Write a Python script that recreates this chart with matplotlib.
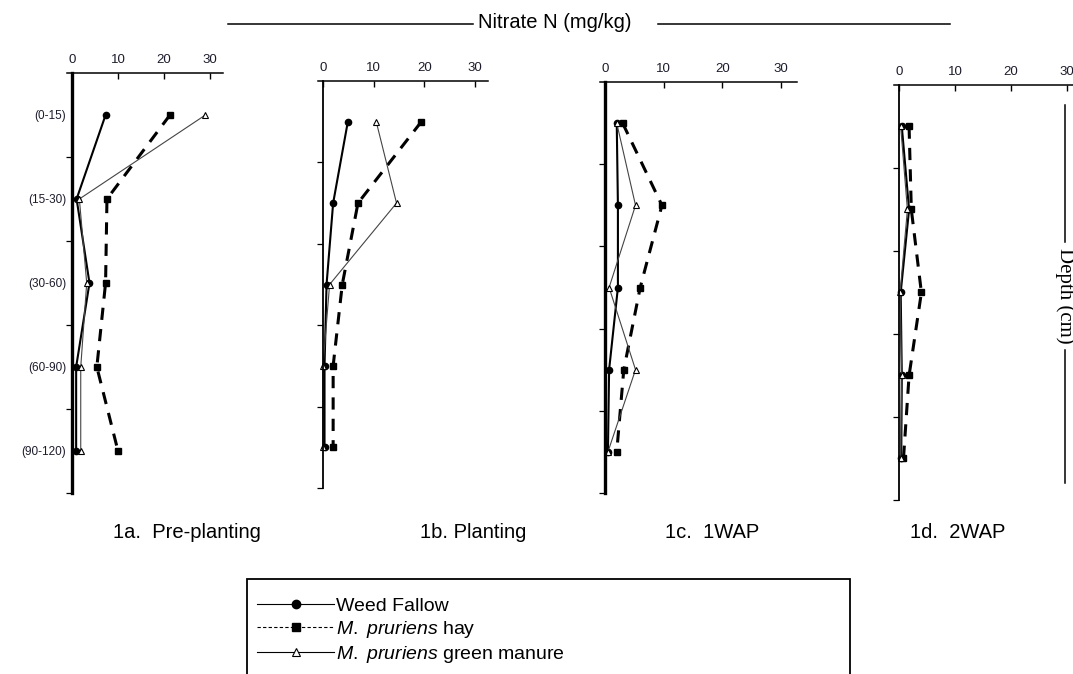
import matplotlib
matplotlib.use("Agg")
import matplotlib.pyplot as plt
from matplotlib.lines import Line2D
from matplotlib.patches import Rectangle

# ---------- DATA ----------
depth_labels = ["(0-15)", "(15-30)", "(30-60)", "(60-90)", "(90-120)"]
depth_pos = [1, 2, 3, 4, 5]
panel_titles = ["1a.  Pre-planting", "1b. Planting", "1c.  1WAP", "1d.  2WAP"]
x_ticks = [0, 10, 20, 30]

# nitrate N (mg/kg) per panel, top to bottom
weed_fallow = [
    [7.3, 1.0, 3.8, 0.9, 0.9],
    [4.9, 2.0, 0.7, 0.3, 0.3],
    [2.0, 2.2, 2.2, 0.7, 0.5],
    [0.5, 1.8, 0.3, 0.5, 0.4],
]
hay = [
    [21.3, 7.6, 7.3, 5.4, 10.0],
    [19.4, 6.9, 3.8, 2.0, 2.0],
    [3.0, 9.7, 6.0, 3.2, 2.0],
    [1.8, 2.2, 4.0, 1.8, 0.8],
]
green_manure = [
    [29.0, 1.6, 3.2, 1.9, 1.9],
    [10.5, 14.5, 1.3, 0.0, 0.0],
    [2.0, 5.2, 0.7, 5.2, 0.5],
    [0.3, 1.5, 0.2, 0.5, 0.3],
]

legend_labels = ["Weed Fallow", r"$M.$ $pruriens$ hay", r"$M.$ $pruriens$ green manure"]

# ---------- STYLE ----------
plt.rcParams["font.family"] = ["Liberation Sans", "DejaVu Sans"]
plt.rcParams["mathtext.fontset"] = "custom"
plt.rcParams["mathtext.it"] = "Liberation Sans:italic"
plt.rcParams["mathtext.rm"] = "Liberation Sans"

W, H = 1073, 674
fig = plt.figure(figsize=(W / 100, H / 100), dpi=100)

# panel layout in pixels: y-axis x, right end, top, bottom, px per unit, spine width
layout = [
    (72, 223, 73, 493, 4.6, 2.4),
    (323, 488, 81, 488, 5.07, 1.3),
    (605, 797, 82, 493, 5.87, 2.4),
    (899, 1085, 85, 500, 5.6, 1.3),
]
title_x = [113, 420, 665, 910]

for i, (x0, x1, top, bot, ppu, lw_spine) in enumerate(layout):
    left = x0 - 5
    ax = fig.add_axes([left / W, 1 - bot / H, (x1 - left) / W, (bot - top) / H])
    ax.plot(weed_fallow[i], depth_pos, color="black", lw=1.5, marker="o", ms=4.5)
    ax.plot(hay[i], depth_pos, color="black", lw=2.2, ls=(0, (4, 3)), marker="s", ms=5)
    ax.plot(green_manure[i], depth_pos, color="#444444", lw=0.8, marker="^", ms=5,
            mfc="white", mec="black", mew=0.8)

    ax.set_xlim(-5 / ppu, (x1 - x0) / ppu)
    ax.set_ylim(5.5, 0.5)
    ax.spines["left"].set_position(("data", 0))
    ax.spines["left"].set_linewidth(lw_spine)
    ax.spines["top"].set_linewidth(1.1)
    ax.spines["right"].set_visible(False)
    ax.spines["bottom"].set_visible(False)

    ax.xaxis.tick_top()
    ax.set_xticks(x_ticks)
    ax.tick_params(axis="x", direction="in", length=4, width=1, pad=5,
                   labelsize=9.5, labelcolor="#1c1c2c")

    ax.set_yticks(depth_pos)
    ax.set_yticks([1.5, 2.5, 3.5, 4.5, 5.5], minor=True)
    ax.tick_params(axis="y", which="major", length=0, pad=4, labelsize=8.5,
                   labelcolor="#1c1c2c")
    ax.tick_params(axis="y", which="minor", direction="out", length=4, width=0.9)
    if i == 0:
        ax.set_yticklabels(depth_labels)
    else:
        ax.set_yticklabels([])
    ax.patch.set_alpha(0)

    fig.text(title_x[i] / W, 1 - 532 / H, panel_titles[i], fontsize=14.5,
             ha="left", va="center")

# top title with rules
fig.text(555 / W, 1 - 22 / H, "Nitrate N (mg/kg)", fontsize=14.5, ha="center", va="center")
fig.add_artist(Line2D([228 / W, 473 / W], [1 - 24 / H] * 2, color="black", lw=1.1))
fig.add_artist(Line2D([658 / W, 950 / W], [1 - 24 / H] * 2, color="black", lw=1.1))

# right depth label with rules
fig.text(1065 / W, 1 - 296 / H, "Depth (cm)", fontsize=15, rotation=-90,
         ha="center", va="center", family="Liberation Serif")
fig.add_artist(Line2D([1065 / W] * 2, [1 - 105 / H, 1 - 242 / H], color="black", lw=1.1))
fig.add_artist(Line2D([1065 / W] * 2, [1 - 350 / H, 1 - 483 / H], color="black", lw=1.1))

# legend box (open at the bottom edge of the picture)
fig.add_artist(Rectangle((247 / W, -0.05), (850 - 247) / W, (1 - 579 / H) + 0.05,
                         transform=fig.transFigure, fill=False, ec="black", lw=1.3))
handles = [
    Line2D([], [], color="black", lw=0.8, marker="o", ms=6),
    Line2D([], [], color="black", lw=0.8, ls=(0, (3, 2)), marker="s", ms=6),
    Line2D([], [], color="black", lw=0.8, marker="^", ms=6, mfc="white", mew=0.8),
]
fig.legend(handles, legend_labels, loc="upper left",
           bbox_to_anchor=(243 / W, 1 - 584 / H), frameon=False, fontsize=14,
           handlelength=4.0, handletextpad=0.1, labelspacing=0.2, borderpad=0.2)

fig.savefig("out.png", dpi=100)
